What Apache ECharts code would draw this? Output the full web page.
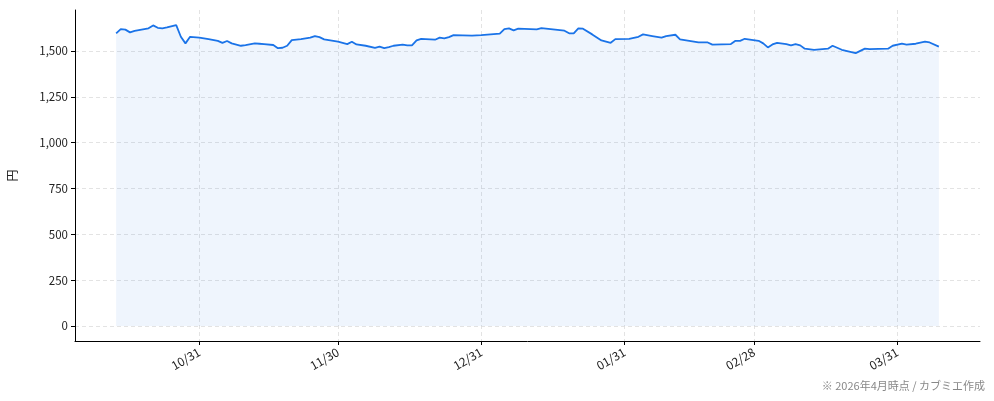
<!DOCTYPE html>
<html>
<head>
<meta charset="utf-8">
<script src="https://cdn.jsdelivr.net/npm/echarts@6/dist/echarts.min.js"></script>
<style>
  html, body { margin: 0; padding: 0; background: #fff; }
  #main { width: 994px; height: 401px; }
</style>
</head>
<body>
<div id="main"></div>
<script>
// 日付と終値（チャートから読み取り）
var dates = [
  '2025-10-13','2025-10-14','2025-10-15','2025-10-16','2025-10-17','2025-10-20','2025-10-21','2025-10-22',
  '2025-10-23','2025-10-24','2025-10-26','2025-10-27','2025-10-28','2025-10-29','2025-10-31',
  '2025-11-02','2025-11-04','2025-11-05','2025-11-06','2025-11-07','2025-11-09','2025-11-10','2025-11-12',
  '2025-11-13','2025-11-14','2025-11-16','2025-11-17','2025-11-18','2025-11-19','2025-11-20','2025-11-22',
  '2025-11-24','2025-11-25','2025-11-26','2025-11-27','2025-11-30',
  '2025-12-02','2025-12-03','2025-12-04','2025-12-06','2025-12-08','2025-12-09','2025-12-10','2025-12-11',
  '2025-12-12','2025-12-14','2025-12-15','2025-12-16','2025-12-17','2025-12-18','2025-12-21','2025-12-22',
  '2025-12-23','2025-12-24','2025-12-25','2025-12-29','2025-12-31',
  '2026-01-04','2026-01-05','2026-01-06','2026-01-07','2026-01-08','2026-01-12','2026-01-13','2026-01-15',
  '2026-01-18','2026-01-19','2026-01-20','2026-01-21','2026-01-22','2026-01-24','2026-01-26','2026-01-28',
  '2026-01-29',
  '2026-02-01','2026-02-03','2026-02-04','2026-02-06','2026-02-08','2026-02-09','2026-02-11','2026-02-12',
  '2026-02-14','2026-02-16','2026-02-18','2026-02-19','2026-02-23','2026-02-24','2026-02-25','2026-02-26',
  '2026-03-01','2026-03-02','2026-03-03','2026-03-04','2026-03-05','2026-03-07','2026-03-08','2026-03-09',
  '2026-03-10','2026-03-11','2026-03-13','2026-03-16','2026-03-17','2026-03-19','2026-03-22','2026-03-24',
  '2026-03-25','2026-03-29','2026-03-30',
  '2026-04-01','2026-04-02','2026-04-04','2026-04-06','2026-04-07','2026-04-09'
];
var prices = [
  1597,1620,1617,1602,1610,1624,1640,1627,
  1624,1629,1642,1578,1542,1578,1573,
  1565,1556,1545,1555,1542,1529,1533,1542,
  1540,1538,1533,1516,1518,1529,1560,1565,
  1573,1582,1576,1564,1551,
  1538,1551,1536,1529,1518,1524,1516,1522,
  1529,1535,1531,1531,1558,1567,1562,1573,
  1569,1576,1587,1584,1587,
  1595,1620,1624,1613,1622,1618,1625,1620,
  1611,1597,1597,1624,1622,1591,1558,1545,
  1565,
  1567,1578,1591,1582,1573,1582,1589,1564,
  1556,1547,1547,1535,1538,1556,1556,1567,
  1556,1542,1520,1536,1545,1538,1531,1538,
  1531,1513,1507,1513,1529,1507,1489,1513,
  1511,1513,1529,
  1540,1535,1540,1551,1547,1524
];
var xTickDates = ['2025-10-31','2025-11-30','2025-12-31','2026-01-31','2026-02-28','2026-03-31'];
var xTickLabels = ['10/31','11/30','12/31','01/31','02/28','03/31'];
var yTicks = [0, 250, 500, 750, 1000, 1250, 1500];

function ts(s) { return +echarts.time.parse(s); }

var seriesData = dates.map(function (d, i) { return [ts(d), prices[i]]; });
var xTickValues = xTickDates.map(ts);

// 余白（データ範囲の5%）
var t0 = ts(dates[0]), t1 = ts(dates[dates.length - 1]);
var xPad = (t1 - t0) * 0.05;
var yMaxData = Math.max.apply(null, prices);
var yPad = yMaxData * 0.05;

var font = '"Noto Sans CJK JP", "Noto Sans", sans-serif';

var myChart = echarts.init(document.getElementById('main'));
var option = {
  backgroundColor: '#fff',
  animation: false,
  grid: { left: 75, right: 14, top: 10, bottom: 60, outerBoundsMode: 'none', containLabel: false },
  xAxis: {
    type: 'value',
    min: t0 - xPad,
    max: t1 + xPad,
    axisLine: { show: true, onZero: false, lineStyle: { color: '#000', width: 1 } },
    axisTick: { show: true, length: 4, customValues: xTickValues, lineStyle: { color: '#000' } },
    axisLabel: {
      customValues: xTickValues,
      rotate: 30,
      fontSize: 12,
      color: '#222',
      fontFamily: font,
      margin: 10,
      formatter: function (v) {
        var i = xTickValues.indexOf(v);
        return i >= 0 ? xTickLabels[i] : '';
      }
    },
    splitLine: { show: true, lineStyle: { color: '#dcdcdc', type: [4, 3], width: 0.8 } }
  },
  yAxis: {
    type: 'value',
    min: -(yMaxData * 0.05),
    max: yMaxData + yPad,
    name: '円',
    nameLocation: 'middle',
    nameRotate: 90,
    nameGap: 57,
    nameTextStyle: { fontSize: 12, color: '#222', fontFamily: font },
    axisLine: { show: true, onZero: false, lineStyle: { color: '#000', width: 1 } },
    axisTick: { show: true, length: 4, customValues: yTicks, lineStyle: { color: '#000' } },
    axisLabel: {
      customValues: yTicks,
      fontSize: 11.5,
      color: '#222',
      fontFamily: font,
      margin: 7,
      formatter: function (v) { return v.toLocaleString('en-US'); }
    },
    splitLine: { show: true, lineStyle: { color: '#dcdcdc', type: [4, 3], width: 0.8 } }
  },
  series: [{
    type: 'line',
    data: seriesData,
    showSymbol: false,
    lineStyle: { color: '#1a73e8', width: 1.8 },
    itemStyle: { color: '#1a73e8' },
    areaStyle: { color: 'rgba(26,115,232,0.1)', origin: 0 }
  }],
  graphic: [{
    type: 'text',
    right: 9,
    bottom: 10,
    style: {
      text: '※ 2026年4月時点 / カブミエ作成',
      fontSize: 11,
      fill: '#888',
      fontFamily: font
    }
  }]
};
myChart.setOption(option);
</script>
</body>
</html>
